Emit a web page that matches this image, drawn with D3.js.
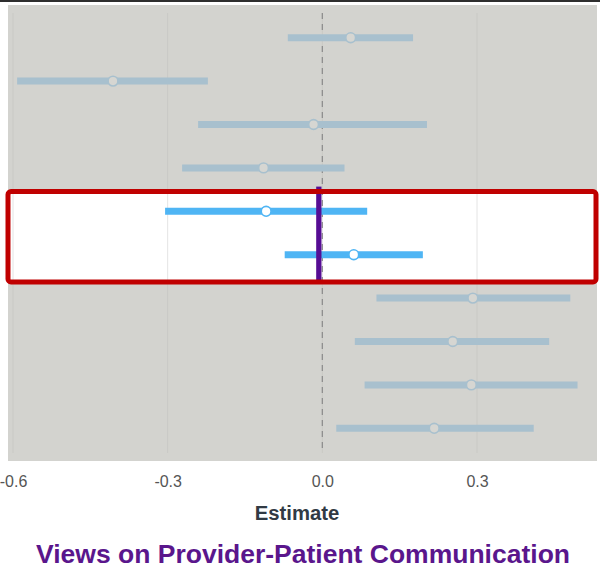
<!DOCTYPE html>
<html>
<head>
<meta charset="utf-8">
<script src="https://cdn.jsdelivr.net/npm/d3@7"></script>
<style>
  html, body { margin: 0; padding: 0; background: #ffffff; }
  svg { display: block; }
</style>
</head>
<body>
<svg id="chart" width="600" height="577"></svg>
<script>
// ---- data ----
const categories = ["Item 1","Item 2","Item 3","Item 4","Item 5","Item 6","Item 7","Item 8","Item 9","Item 10"];
const estimates  = [0.055, -0.406, -0.017, -0.114, -0.109, 0.061, 0.292, 0.253, 0.289, 0.217];
const lower      = [-0.067, -0.592, -0.241, -0.272, -0.305, -0.073, 0.105, 0.063, 0.082, 0.027];
const upper      = [0.176, -0.222, 0.203, 0.043, 0.087, 0.195, 0.481, 0.440, 0.495, 0.410];
const highlighted = ["Item 5", "Item 6"];
const tickValues = [-0.6, -0.3, 0.0, 0.3];
const tickLabels = ["-0.6", "-0.3", "0.0", "0.3"];
const xTitle = "Estimate";
const chartTitle = "Views on Provider-Patient Communication";

const rows = categories.map((c, i) => ({ cat: c, est: estimates[i], lo: lower[i], hi: upper[i], hl: highlighted.includes(c) }));

const svg = d3.select("#chart");
const font = "'Liberation Sans', Arial, sans-serif";

const x = d3.scaleLinear().domain([-0.6, 0.3]).range([13, 477]);
const y = d3.scaleBand().domain(categories).range([16, 450]).padding(0);

// top dark rule
svg.append("rect").attr("x", 0).attr("y", 0).attr("width", 600).attr("height", 2).attr("fill", "#2e2e2e");

// panel background
svg.append("rect").attr("x", 8).attr("y", 5).attr("width", 589).attr("height", 456).attr("fill", "#d3d3cf");

// gridlines
svg.append("g").selectAll("line").data(tickValues).join("line")
  .attr("x1", d => x(d)).attr("x2", d => x(d))
  .attr("y1", 13).attr("y2", 453)
  .attr("stroke", "#c9c9c5").attr("stroke-width", 1);

// highlight band (white)
const hlRows = categories.filter(c => highlighted.includes(c));
const bandTop = y(hlRows[0]) + 2;
const bandBottom = y(hlRows[hlRows.length - 1]) + y.bandwidth() + 5.5;
svg.append("rect").attr("x", 8).attr("y", bandTop).attr("width", 588).attr("height", bandBottom - bandTop)
  .attr("fill", "#ffffff");
svg.append("g").selectAll("line").data(tickValues).join("line")
  .attr("x1", d => x(d)).attr("x2", d => x(d))
  .attr("y1", bandTop).attr("y2", bandBottom)
  .attr("stroke", "#e4e4e4").attr("stroke-width", 1);

// zero dashed line
svg.append("line")
  .attr("x1", x(0)).attr("x2", x(0)).attr("y1", 13).attr("y2", 453)
  .attr("stroke", "#8f8f8f").attr("stroke-width", 1.3).attr("stroke-dasharray", "6,5");

// interval bars
svg.append("g").selectAll("line").data(rows).join("line")
  .attr("x1", d => x(d.lo)).attr("x2", d => x(d.hi))
  .attr("y1", d => y(d.cat) + y.bandwidth() / 2).attr("y2", d => y(d.cat) + y.bandwidth() / 2)
  .attr("stroke", d => d.hl ? "#4fb5f4" : "#a8c0ce")
  .attr("stroke-width", 7);

// purple reference line
svg.append("line")
  .attr("x1", x(0) - 3.5).attr("x2", x(0) - 3.5)
  .attr("y1", bandTop - 5).attr("y2", bandBottom + 1)
  .attr("stroke", "#560d94").attr("stroke-width", 5.3);

// points
svg.append("g").selectAll("circle").data(rows).join("circle")
  .attr("cx", d => x(d.est)).attr("cy", d => y(d.cat) + y.bandwidth() / 2)
  .attr("r", 4.9)
  .attr("fill", d => d.hl ? "#ffffff" : "#d6d6d2")
  .attr("stroke", d => d.hl ? "#4fb5f4" : "#a8c0ce")
  .attr("stroke-width", 1.6);

// red highlight frame
svg.append("rect").attr("x", 8).attr("y", bandTop).attr("width", 588).attr("height", bandBottom - bandTop)
  .attr("rx", 3).attr("ry", 3)
  .attr("fill", "none").attr("stroke", "#c00000").attr("stroke-width", 5);

// axis
const axis = d3.axisBottom(x).tickValues(tickValues).tickFormat((d, i) => tickLabels[i]).tickSize(0).tickPadding(0);
const axG = svg.append("g").attr("transform", "translate(0,475)").call(axis);
axG.select(".domain").remove();
axG.selectAll("text")
  .attr("dy", 0).attr("y", 12)
  .attr("font-family", font).attr("font-size", 16).attr("fill", "#555555");

// axis title
svg.append("text").attr("x", 297).attr("y", 520).attr("text-anchor", "middle")
  .attr("font-family", font).attr("font-size", 20.3).attr("font-weight", "bold").attr("fill", "#313a44")
  .text(xTitle);

// chart title
svg.append("text").attr("x", 303).attr("y", 563).attr("text-anchor", "middle")
  .attr("font-family", font).attr("font-size", 26.5).attr("font-weight", "bold").attr("fill", "#5a168c")
  .text(chartTitle);
</script>
</body>
</html>
